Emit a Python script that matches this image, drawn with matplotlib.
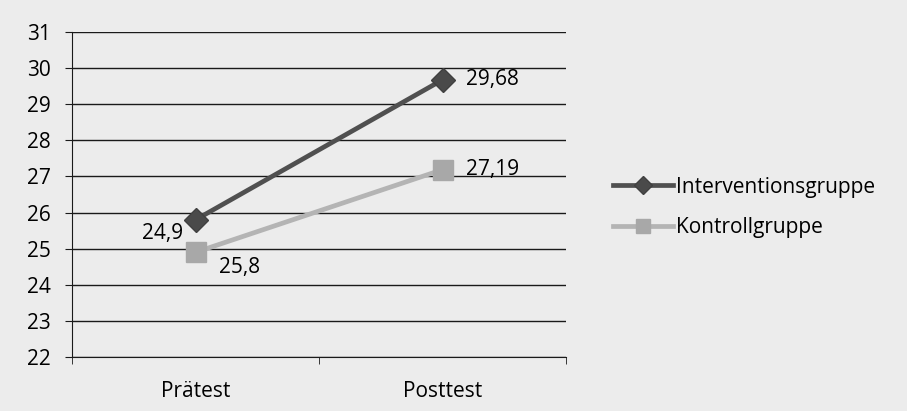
import matplotlib
matplotlib.use("Agg")
import matplotlib.pyplot as plt
from matplotlib.ticker import FixedLocator

categories = ["Prätest", "Posttest"]
interv_values = [25.8, 29.68]
kontroll_values = [24.9, 27.19]
interv_labels = ["24,9", "29,68"]
kontroll_labels = ["25,8", "27,19"]
series_names = ["Interventionsgruppe", "Kontrollgruppe"]
y_ticks = list(range(22, 32))

plt.rcParams['font.family'] = ['Open Sans', 'DejaVu Sans']
FS = 15

bg = '#ececec'
fig = plt.figure(figsize=(9.07, 4.11), dpi=100, facecolor=bg)
ax = fig.add_axes([0.0794, 0.1314, 0.545, 0.7907])
ax.set_facecolor(bg)

x = list(range(len(categories)))
l1, = ax.plot(x, interv_values, color='#505050', lw=3.4, marker='D', ms=12,
              markeredgecolor='#404040', markerfacecolor='#4a4a4a', zorder=4)
l2, = ax.plot(x, kontroll_values, color='#b4b4b4', lw=3.4, marker='s', ms=14,
              markeredgecolor='#a8a8a8', markerfacecolor='#a8a8a8', zorder=3)

ax.set_xlim(-0.5, 1.5)
ax.set_ylim(22, 31)
ax.set_yticks(y_ticks)
ax.set_yticklabels([str(t) for t in y_ticks], fontsize=FS)
ax.grid(axis='y', color='#1a1a1a', lw=1.0)
ax.set_axisbelow(True)

ax.set_xticks(x)
ax.set_xticklabels(categories, fontsize=FS)
ax.xaxis.set_minor_locator(FixedLocator([-0.5, 0.5, 1.5]))
ax.tick_params(axis='x', which='major', length=0, pad=17)
ax.tick_params(axis='x', which='minor', length=5, color='#1a1a1a', direction='out')
ax.tick_params(axis='y', length=5, color='#1a1a1a', pad=10)

for s in ['top', 'right']:
    ax.spines[s].set_visible(False)
ax.spines['left'].set_color('#1a1a1a')
ax.spines['bottom'].set_color('#1a1a1a')

# data labels
ax.annotate(interv_labels[0], (x[0], interv_values[0]), xytext=(-9, -10),
            textcoords='offset points', ha='right', va='center', fontsize=FS)
ax.annotate(interv_labels[1], (x[1], interv_values[1]), xytext=(17, 0),
            textcoords='offset points', ha='left', va='center', fontsize=FS)
ax.annotate(kontroll_labels[0], (x[0], kontroll_values[0]), xytext=(17, -11),
            textcoords='offset points', ha='left', va='center', fontsize=FS)
ax.annotate(kontroll_labels[1], (x[1], kontroll_values[1]), xytext=(17, 0),
            textcoords='offset points', ha='left', va='center', fontsize=FS)

leg = fig.legend([l1, l2], series_names, loc='center left',
                 bbox_to_anchor=(0.655, 0.495), frameon=False, fontsize=FS,
                 handlelength=2.9, handletextpad=0.15, labelspacing=0.95,
                 markerscale=0.75)

fig.savefig('out.png', dpi=100, facecolor=bg)
